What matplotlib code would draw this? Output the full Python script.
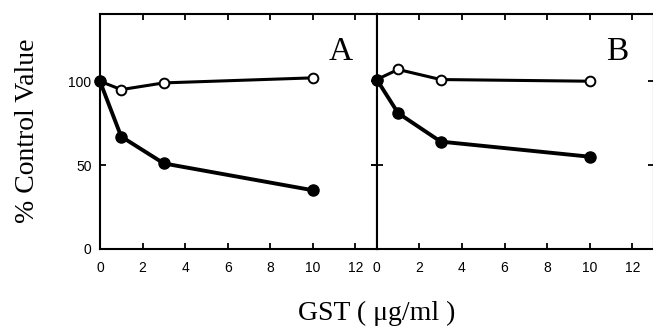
import matplotlib
matplotlib.use("Agg")
import matplotlib.pyplot as plt

# GST dose (ug/ml) and response as % of control
gst = [0, 1, 3, 10]

a_open = [100, 95, 99, 102]
a_filled = [100, 67, 51, 35]

b_open = [101, 107, 101, 100]
b_filled = [101, 81, 64, 55]

panels = [("A", a_open, a_filled), ("B", b_open, b_filled)]

xticks = [0, 2, 4, 6, 8, 10, 12]
yticks = [0, 50, 100]

fig = plt.figure(figsize=(6.53, 3.36), dpi=100)
ax_a = fig.add_axes([0.153, 0.259, 0.424, 0.699])
ax_b = fig.add_axes([0.577, 0.259, 0.424, 0.699])

tick_font = {"family": "Liberation Sans", "size": 10}

for ax, (tag, y_open, y_filled) in zip([ax_a, ax_b], panels):
    ax.plot(gst, y_open, color="black", lw=2.2, marker="o", ms=7,
            mfc="white", mec="black", mew=1.4, zorder=3, clip_on=False)
    ax.plot(gst, y_filled, color="black", lw=2.8, marker="o", ms=8,
            mfc="black", mec="black", zorder=4, clip_on=False)
    ax.set_xlim(0, 13)
    ax.set_ylim(0, 140)
    ax.set_xticks(xticks)
    ax.set_yticks(yticks)
    ax.tick_params(direction="in", length=4, width=1.3, top=True, right=True)
    ax.tick_params(axis="x", pad=9)
    ax.tick_params(axis="y", pad=6)
    for s in ax.spines.values():
        s.set_linewidth(1.5)
    ax.set_xticklabels([str(t) for t in xticks], fontdict=tick_font)
    ax.text(0.87, 0.84, tag, transform=ax.transAxes, fontsize=24,
            family="Liberation Serif", ha="center", va="center")

ax_a.set_yticklabels([str(t) for t in yticks], fontdict=tick_font)
ax_b.tick_params(labelleft=False)
ax_b.tick_params(axis="y", left=True, direction="inout", length=8)

fig.text(0.042, 0.61, "% Control Value", rotation=90, ha="center", va="center",
         family="Liberation Serif", fontsize=20)
fig.text(0.577, 0.068, "GST ( \u03bcg/ml )", ha="center", va="center",
         family="Liberation Serif", fontsize=20)

fig.savefig("out.png", dpi=100)
